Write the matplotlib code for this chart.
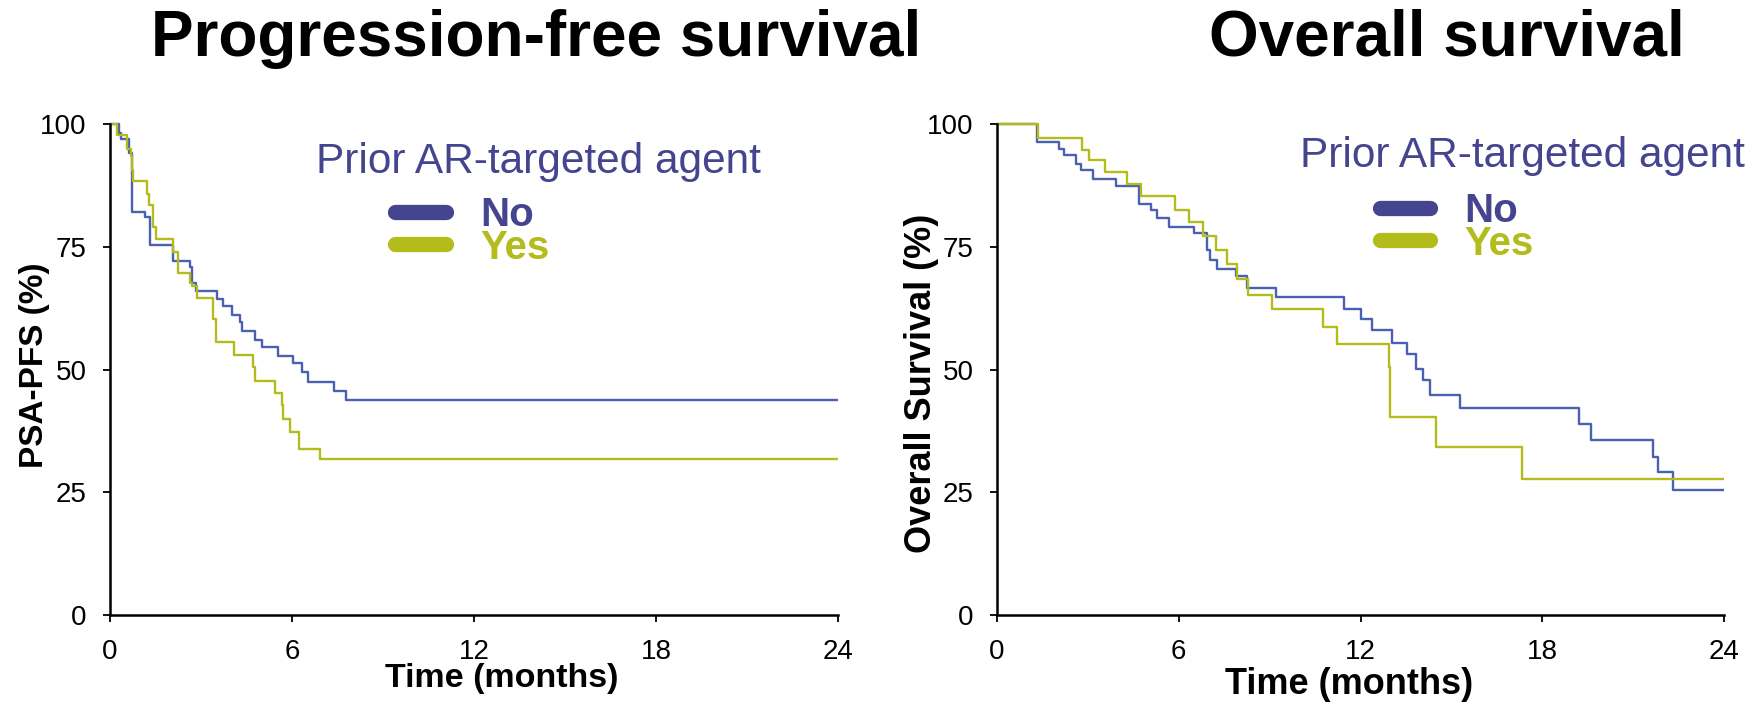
import matplotlib
matplotlib.use('Agg')
import matplotlib.pyplot as plt
from matplotlib.lines import Line2D

plt.rcParams['font.family'] = ['Liberation Sans', 'DejaVu Sans']

# PSA-PFS, step times (months) and survival (%)
pfs_no_t = [0, 0.31, 0.35, 0.64, 0.71, 1.15, 1.32, 2.07, 2.64, 2.69, 2.84, 3.54, 3.71,
            4.01, 4.29, 4.34, 4.78, 5.00, 5.55, 6.02, 6.32, 6.54, 7.40, 7.77]
pfs_no_s = [100, 98.1, 96.9, 94.0, 82.1, 81.1, 75.4, 72.0, 70.9, 67.6, 65.9, 64.3, 62.9,
            61.1, 59.7, 57.8, 56.1, 54.6, 52.8, 51.3, 49.4, 47.5, 45.6, 43.8]
pfs_yes_t = [0, 0.22, 0.57, 0.68, 0.71, 0.77, 1.23, 1.30, 1.43, 1.52, 2.07, 2.25, 2.64,
             2.69, 2.88, 3.41, 3.49, 4.09, 4.73, 4.78, 5.44, 5.66, 5.71, 5.93, 6.24, 6.92]
pfs_yes_s = [100, 97.7, 95.0, 93.5, 90.6, 88.4, 85.7, 83.5, 79.1, 76.5, 74.0, 69.6, 67.7,
             67.0, 64.5, 60.3, 55.5, 53.0, 50.6, 47.7, 45.3, 42.8, 39.9, 37.2, 33.9, 31.8]

# overall survival
os_no_t = [0, 1.31, 2.05, 2.21, 2.61, 2.76, 3.16, 3.92, 4.69, 5.10, 5.27, 5.69, 6.50,
           6.92, 7.03, 7.25, 7.89, 8.26, 9.20, 11.45, 12.01, 12.37, 13.03, 13.54, 13.83,
           14.07, 14.31, 15.28, 19.22, 19.60, 21.66, 21.83, 22.32]
os_no_s = [100, 96.3, 95.0, 93.7, 91.9, 90.6, 88.9, 87.4, 83.8, 82.5, 80.8, 79.1, 77.7,
           74.3, 72.3, 70.5, 69.1, 66.7, 64.8, 62.3, 60.3, 58.0, 55.3, 53.1, 50.2,
           47.9, 44.9, 42.2, 38.9, 35.6, 32.1, 29.2, 25.5]
os_yes_t = [0, 1.36, 2.82, 3.05, 3.58, 4.30, 4.74, 5.89, 6.33, 6.81, 7.23, 7.58, 7.91,
            8.29, 9.07, 10.75, 11.23, 12.94, 12.99, 14.49, 17.32]
os_yes_s = [100, 97.2, 94.8, 92.7, 90.3, 87.8, 85.3, 82.5, 80.1, 77.2, 74.3, 71.4, 68.4,
            65.2, 62.3, 58.7, 55.1, 50.6, 40.3, 34.3, 27.6]

t_end = 24
xticks = [0, 6, 12, 18, 24]
yticks = [0, 25, 50, 75, 100]
groups = ['No', 'Yes']

blue = '#4a60b0'
legend_blue = '#45458f'
green = '#b4bc1c'

fig = plt.figure(figsize=(17.57, 7.07), dpi=100)
W, H = 1757.0, 707.0


def make_ax(x0, x1, y100, y0):
    per = (y0 - y100) / 100.0
    top = y100 - per * 1.0
    return fig.add_axes([x0 / W, 1 - y0 / H, (x1 - x0) / W, (y0 - top) / H])


def km(ax, t, s, col):
    ax.step(list(t) + [t_end], list(s) + [s[-1]], where='post', color=col, lw=1.7)


def style(ax, xlab, xsize, xlab_pos, ylab, ysize, ylab_pos):
    ax.set_xlim(0, 24)
    ax.set_ylim(0, 101)
    ax.set_xticks(xticks)
    ax.set_yticks(yticks)
    ax.spines['top'].set_visible(False)
    ax.spines['right'].set_visible(False)
    for sp in ['left', 'bottom']:
        ax.spines[sp].set_linewidth(1.8)
    ax.spines['left'].set_bounds(0, 100)
    ax.tick_params(direction='out', length=5, width=1.3, pad=12, labelsize=20)
    ax.set_xlabel(xlab, fontsize=xsize, fontweight='bold')
    ax.xaxis.label.set_verticalalignment('center')
    ax.xaxis.set_label_coords(*xlab_pos)
    ax.set_ylabel(ylab, fontsize=ysize, fontweight='bold')
    ax.yaxis.label.set_verticalalignment('center')
    ax.yaxis.set_label_coords(*ylab_pos)


def legend(ax, tx, ty, lx, ly):
    ax.text(tx, ty, 'Prior AR-targeted agent', transform=ax.transAxes, fontsize=30.5,
            color=legend_blue, va='baseline', ha='left')
    handles = [Line2D([], [], color=legend_blue, lw=11, solid_capstyle='round'),
               Line2D([], [], color=green, lw=11, solid_capstyle='round')]
    leg = ax.legend(handles, groups, loc='center left', bbox_to_anchor=(lx, ly),
                    frameon=False, borderpad=0, borderaxespad=0, handlelength=1.25,
                    handletextpad=0.85, labelspacing=-0.13,
                    prop={'size': 29, 'weight': 'bold'})
    for txt, col in zip(leg.get_texts(), [legend_blue, green]):
        txt.set_color(col)


ax1 = make_ax(110, 838, 124, 615)
km(ax1, pfs_no_t, pfs_no_s, blue)
km(ax1, pfs_yes_t, pfs_yes_s, green)
style(ax1, 'Time (months)', 24.5, (0.538, -0.128), 'PSA-PFS (%)', 24, (-0.104, 0.504))
legend(ax1, 0.283, 0.891, 0.392, 0.774)

ax2 = make_ax(997, 1724, 124, 615)
km(ax2, os_no_t, os_no_s, blue)
km(ax2, os_yes_t, os_yes_s, green)
style(ax2, 'Time (months)', 26, (0.484, -0.14), 'Overall Survival (%)', 26, (-0.1045, 0.468))
legend(ax2, 0.4168, 0.904, 0.527, 0.782)

fig.text(536 / W, 1 - 56 / H, 'Progression-free survival', fontsize=46, fontweight='bold',
         ha='center', va='baseline')
fig.text(1446.6 / W, 1 - 56 / H, 'Overall survival', fontsize=46, fontweight='bold',
         ha='center', va='baseline')

fig.savefig('out.png', dpi=100)
